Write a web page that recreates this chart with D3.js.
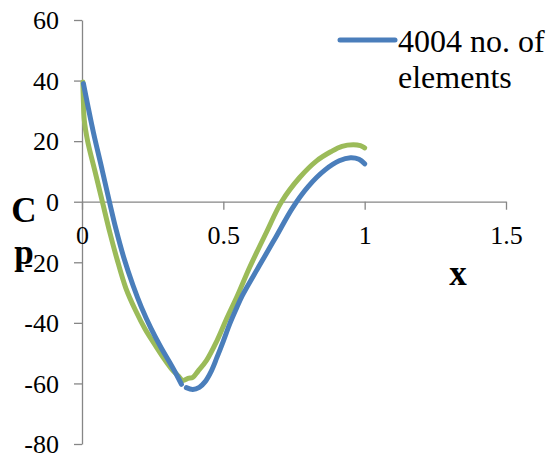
<!DOCTYPE html>
<html>
<head>
<meta charset="utf-8">
<script src="https://cdn.jsdelivr.net/npm/d3@7"></script>
<style>
  body { margin: 0; background: #fff; }
  svg text { font-family: "Times New Roman", "Liberation Serif", Times, serif; fill: #000; }
</style>
</head>
<body>
<div class="cp_plot"></div>
<script>
// tick labels
const xTicks = [0, 0.5, 1, 1.5];
const yTicks = [-80, -60, -40, -20, 0, 20, 40, 60];

// series 1 (blue) - null marks the small gap near the minimum
const blueX = [0.005, 0.02, 0.04, 0.07, 0.097, 0.12, 0.148, 0.18, 0.21, 0.244, 0.28, 0.31, 0.335, 0.352, 0.36,
               0.369, 0.392, 0.415, 0.435, 0.457, 0.477, 0.5, 0.522, 0.545, 0.567, 0.625, 0.685, 0.745, 0.8, 0.86, 0.91, 0.95, 0.98, 1.0];
const blueY = [39, 32, 23, 11, 0, -9, -18.5, -27.5, -34.8, -41.8, -48.2, -53, -57.2, -60.3, null,
               -61.4, -62, -61.3, -59.5, -56, -51.5, -46, -40.5, -35.5, -31, -21.5, -11.8, -2, 5, 10.5, 13.5, 14.5, 14, 12.5];

// series 2 (green)
const greenX = [0.003, 0.005, 0.008, 0.02, 0.046, 0.072, 0.098, 0.124, 0.155, 0.19, 0.223, 0.26, 0.29, 0.315, 0.34,
                0.357, 0.375, 0.392, 0.41, 0.44, 0.477, 0.51, 0.55, 0.594, 0.653, 0.706, 0.77, 0.83, 0.88, 0.92, 0.96, 0.985, 1.0];
const greenY = [39.5, 33, 27, 20, 10, 0, -10, -19, -28.5, -36, -42, -47.5, -51.8, -55, -57.5,
                -59, -58.3, -58, -56, -52.5, -46, -39, -31, -21.5, -10, 0, 8, 13.5, 16.5, 18.3, 18.8, 18.5, 17.8];

const legendLines = ['4004 no. of', 'elements'];

const width = 549, height = 459;
const serif = '"Times New Roman", "Liberation Serif", Times, serif';

const svg = d3.select('.cp_plot')
              .append('svg')
              .attr('width', width)
              .attr('height', height)
              .attr('font-family', serif);

const xScale = d3.scaleLinear()
                 .domain([0, 1.5])
                 .range([82, 506]);
const yScale = d3.scaleLinear()
                 .domain([-80, 60])
                 .range([444, 20]);

const axisColor = '#868686';

// y axis
const yAxis = d3.axisLeft(yScale)
                .tickValues(yTicks)
                .tickSize(8)
                .tickSizeOuter(0)
                .tickFormat(d => String(d));
const gy = svg.append('g')
   .attr('class', 'axis y-axis')
   .attr('transform', `translate(${xScale(0)}, 0)`)
   .call(yAxis);

// x axis on the zero line
const xAxis = d3.axisBottom(xScale)
                .tickValues(xTicks)
                .tickSize(8)
                .tickSizeOuter(0)
                .tickFormat(d => String(d));
const gx = svg.append('g')
   .attr('class', 'axis x-axis')
   .attr('transform', `translate(0, ${yScale(0)})`)
   .call(xAxis);

[gx, gy].forEach(g => {
    g.attr('font-family', serif).attr('font-size', 26);
    g.select('.domain').attr('stroke', axisColor).attr('stroke-width', 1.3);
    g.selectAll('.tick line').attr('stroke', axisColor).attr('stroke-width', 1.3);
    g.selectAll('.tick text').attr('fill', '#000');
});
gy.selectAll('.tick text').attr('x', -23).attr('dy', '0.34em');
gx.selectAll('.tick text').attr('y', 42).attr('dy', 0);

// lines
const line = d3.line()
               .defined(d => d[1] != null)
               .x(d => xScale(d[0]))
               .y(d => yScale(d[1]))
               .curve(d3.curveCatmullRom.alpha(0.5));

const series = [
    {x: greenX, y: greenY, color: '#9BBB59'},
    {x: blueX, y: blueY, color: '#4A7EBB'}
];

svg.selectAll('path.series')
   .data(series)
   .enter()
   .append('path')
   .attr('class', 'series')
   .attr('fill', 'none')
   .attr('stroke', d => d.color)
   .attr('stroke-width', 5)
   .attr('stroke-linecap', 'round')
   .attr('stroke-linejoin', 'round')
   .attr('d', d => line(d.x.map((v, i) => [v, d.y[i]])));

// axis titles
const titles = [
    {t: 'C', x: 24, y: 222},
    {t: 'p', x: 24, y: 264},
    {t: 'x', x: 458, y: 285}
];
svg.selectAll('text.title')
   .data(titles)
   .enter()
   .append('text')
   .attr('class', 'title')
   .attr('x', d => d.x)
   .attr('y', d => d.y)
   .attr('text-anchor', 'middle')
   .attr('font-size', 35)
   .attr('font-weight', 'bold')
   .text(d => d.t);

// legend
svg.append('line')
   .attr('x1', 340).attr('x2', 395)
   .attr('y1', 40).attr('y2', 40)
   .attr('stroke', '#4A7EBB')
   .attr('stroke-width', 5)
   .attr('stroke-linecap', 'round');
svg.selectAll('text.legend')
   .data(legendLines)
   .enter()
   .append('text')
   .attr('class', 'legend')
   .attr('x', 398)
   .attr('y', (d, i) => 52 + i * 36)
   .attr('font-size', 32)
   .text(d => d);
</script>
</body>
</html>
